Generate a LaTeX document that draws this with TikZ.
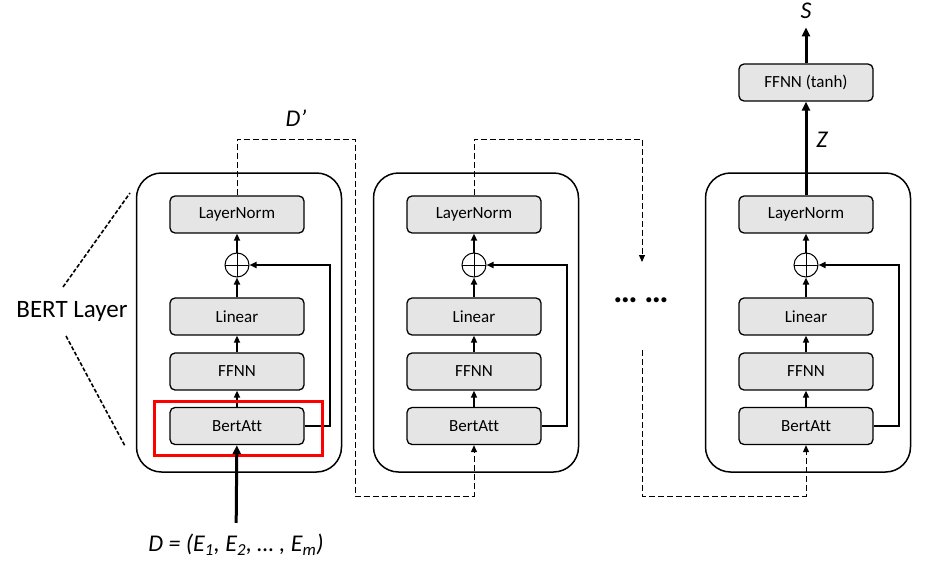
\documentclass[tikz,border=0pt]{standalone}
\usepackage{fontspec}
\setmainfont[Ligatures=NoCommon]{Carlito}
\usetikzlibrary{arrows.meta}

\tikzset{
  blk/.style={draw, line width=1.3pt, rounded corners=5pt, fill=gray!20,
    minimum width=134pt, minimum height=37pt, inner sep=0pt,
    font=\fontsize{17}{20}\selectfont},
  layerbox/.style={draw, line width=1.5pt, rounded corners=25pt,
    minimum width=205pt, minimum height=299pt},
  addnode/.style={circle, draw, line width=1pt, minimum size=24pt, inner sep=0pt,
    path picture={\draw[line width=1pt]
      (path picture bounding box.north) -- (path picture bounding box.south)
      (path picture bounding box.west) -- (path picture bounding box.east);}},
  flow/.style={line width=2pt, -{Triangle[length=7pt,width=6pt]}},
  bigflow/.style={line width=3pt, -{Triangle[length=9pt,width=8pt]}},
  dashlink/.style={line width=1pt, dash pattern=on 6pt off 3pt,
    -{Triangle[length=7pt,width=6pt]}},
  label/.style={font=\fontsize{24}{28}\selectfont\itshape}
}

\begin{document}
\begin{tikzpicture}[x=1pt, y=-1pt]
  \useasboundingbox (0,0) rectangle (927,565);

  % three encoder layers
  \foreach \i/\x in {1/237, 2/474, 3/806} {
    \node[layerbox] (layer\i) at (\x+2, 322.5) {};
    \node[blk] (ln\i) at (\x, 214.5) {LayerNorm};
    \node[addnode] (add\i) at (\x, 265) {};
    \node[blk] (lin\i) at (\x, 316.5) {Linear};
    \node[blk] (ffnn\i) at (\x, 371.5) {FFNN};
    \node[blk] (att\i) at (\x, 426) {BertAtt};
    \draw[flow] (att\i) -- (ffnn\i);
    \draw[flow] (ffnn\i) -- (lin\i);
    \draw[flow] (lin\i) -- (add\i);
    \draw[flow] (add\i) -- (ln\i);
    \draw[flow] (att\i.east) -- (\x+92.5, 426) |- (add\i.east);
  }

  % highlighted attention block
  \draw[red, line width=3pt] (154,401) rectangle (322,455);

  % input
  \node[label] (input) at (236,545)
    {D = (E\textsubscript{1}, E\textsubscript{2}, \ldots\ , E\textsubscript{m})};
  \draw[bigflow, shorten <=8pt] (input) -- (att1);

  % links between layers
  \node[label] (dprime) at (296,118) {D’};
  \draw[dashlink] (ln1.north) |- (355,139) -- (355,496) -| (att2.south);
  \coordinate (gapin) at (642,262);
  \coordinate (gapout) at (642,350);
  \draw[dashlink] (ln2.north) |- (642,139) -- (gapin);
  \draw[dashlink] (gapout) -- (642,496) -| (att3.south);
  \node[font=\fontsize{34}{34}\selectfont\bfseries] (dots) at (641,300) {…\hspace{7pt}…};

  % output head
  \node[blk] (tanh) at (806,82.5) {FFNN (tanh)};
  \draw[bigflow] (ln3) -- (tanh);
  \node[label] (zlab) at (822,140) {Z};
  \node[label] (sout) at (806,11) {S};
  \draw[bigflow, shorten >=5pt] (tanh) -- (sout);

  % BERT layer annotation
  \node[font=\fontsize{25}{28}\selectfont] (bert) at (72,311) {BERT Layer};
  \draw[line width=1.6pt, dash pattern=on 4pt off 2pt] (63,287) -- (130,193);
  \draw[line width=1.6pt, dash pattern=on 4pt off 2pt] (66,336) -- (125,446);
\end{tikzpicture}
\end{document}
